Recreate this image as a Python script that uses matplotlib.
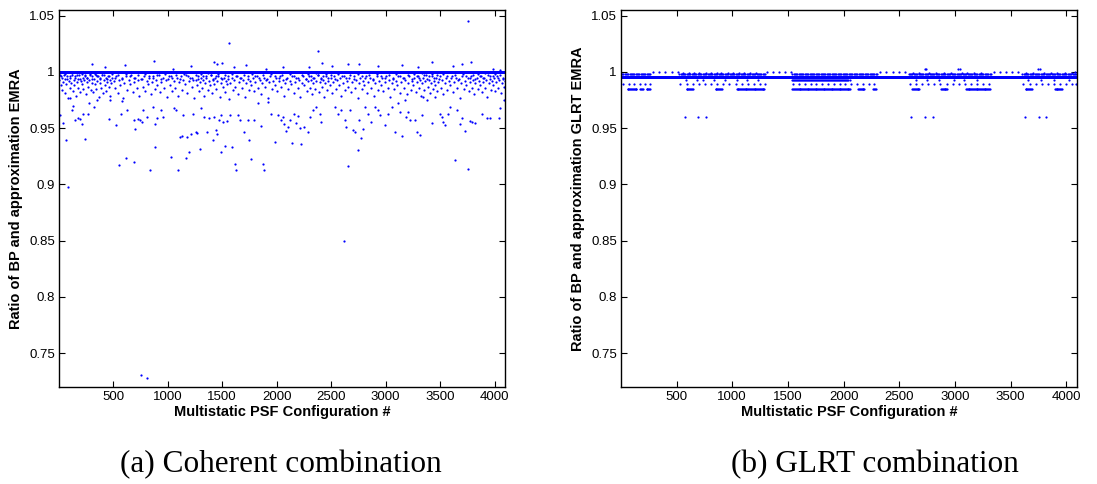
import matplotlib.pyplot as plt
import numpy as np
from matplotlib.ticker import FuncFormatter

n_config = 4096
configs = np.arange(1, n_config + 1)

# ---- (a) coherent combination ----
# most configurations sit on the ratio = 1 line; these are the ones that don't
coh_line = 1.0
coh_above = [(300, 1.007), (420, 1.004), (610, 1.006), (870, 1.010), (1050, 1.003), (1210, 1.005),
             (1420, 1.009), (1450, 1.007), (1500, 1.008), (1560, 1.026), (1610, 1.004), (1720, 1.006),
             (1900, 1.003), (2060, 1.004), (2300, 1.004), (2380, 1.019), (2420, 1.008), (2510, 1.005),
             (2650, 1.007), (2760, 1.007), (2930, 1.005), (3150, 1.006), (3300, 1.004), (3430, 1.009),
             (3620, 1.005), (3700, 1.007), (3760, 1.045), (3780, 1.009), (3990, 1.003), (4050, 1.002)]
coh_outliers = [(11, .9616), (42, .9547), (64, .9398), (82, .8981), (104, .9765), (119, .966), (134, .9696),
                (150, .9571), (171, .9586), (196, .958), (211, .9535), (242, .9407), (217, .963), (263, .963),
                (273, .972), (319, .969), (349, .975), (457, .958), (472, .975),
                (522, .9526), (549, .9175), (571, .963), (580, .9744), (620, .9234), (626, .966), (687, .920),
                (703, .9496), (690, .957), (724, .958), (749, .957), (764, .9556), (773, .966), (810, .9595),
                (841, .913), (866, .969), (878, .954), (887, .9333), (903, .9586), (933, .966), (958, .960),
                (758, .7306), (810, .728),
                (1032, .9243), (1056, .9675), (1072, .966), (1096, .9124), (1112, .9422), (1127, .9428),
                (1142, .9616), (1164, .9237), (1179, .9422), (1195, .9288), (1216, .9452), (1234, .963),
                (1256, .9467), (1271, .9458), (1293, .9318), (1302, .9675), (1333, .960), (1357, .9467),
                (1379, .9592), (1413, .9398), (1425, .960), (1440, .9481), (1456, .9452), (1471, .9571),
                (1486, .9288), (1493, .9616), (1511, .9556), (1523, .9341), (1548, .9562), (1572, .9616),
                (1594, .9333), (1620, .9183), (1626, .913),
                (1640, .9616), (1665, .9571), (1702, .9467), (1732, .9571), (1748, .9392), (1763, .9222),
                (1794, .9571), (1824, .972), (1855, .9517), (1871, .9183), (1886, .9124), (1917, .9735),
                (1947, .963), (1984, .9377), (2009, .9616), (2040, .9571), (2055, .960),
                (2070, .9541), (2086, .9476), (2101, .9511), (2126, .9571), (2138, .9368), (2162, .963),
                (2178, .9547), (2193, .9607), (2218, .9502), (2224, .9362), (2255, .9511), (2285, .9467),
                (2301, .960), (2332, .966), (2362, .969), (2393, .963), (2408, .9556),
                (2531, .969), (2562, .963), (2593, .966), (2614, .8495), (2623, .9571), (2639, .9511),
                (2654, .916), (2670, .966), (2700, .9481), (2716, .9467), (2746, .9303), (2753, .9571),
                (2771, .9416), (2792, .9496), (2808, .969), (2839, .963), (2869, .9556), (2900, .969),
                (2931, .966), (2946, .9616),
                (2992, .9526), (3023, .963), (3054, .969), (3084, .9467), (3115, .972), (3130, .9645),
                (3146, .9428), (3177, .975), (3183, .960), (3207, .9645), (3223, .9571), (3269, .9571),
                (3284, .9467), (3315, .9437), (3330, .9616), (3346, .978), (3376, .975), (3422, .9547),
                (3453, .978),
                (3499, .963), (3515, .960), (3530, .9556), (3545, .9526), (3576, .963), (3591, .969),
                (3638, .922), (3653, .966), (3684, .9541), (3699, .9586), (3730, .9473), (3760, .9139),
                (3776, .9565), (3791, .9556), (3822, .9547), (3883, .963), (3929, .9586), (3960, .9586),
                (4037, .9586), (4052, .9675), (4090, .975)]
coh_band = [(5, .993), (15, .988), (22, .996), (30, .984), (38, .991), (45, .997), (52, .981), (60, .994),
            (68, .989), (75, .996), (83, .977), (90, .992), (98, .986), (105, .995), (112, .990), (120, .997),
            (128, .983), (135, .993), (142, .988), (150, .996), (158, .979), (165, .991), (172, .994),
            (180, .986), (188, .997), (195, .982), (203, .992), (210, .989), (218, .995), (225, .985),
            (233, .993), (240, .997), (248, .980),
            (255, .991), (262, .995), (270, .987), (278, .993), (285, .998), (292, .984), (300, .990),
            (308, .996), (315, .982), (322, .994), (330, .989), (338, .997), (345, .985), (352, .992),
            (360, .996), (368, .978), (375, .990), (382, .994), (390, .986), (398, .997), (405, .981),
            (412, .993), (420, .988), (428, .995), (435, .983), (442, .991), (450, .996), (458, .987),
            (465, .993), (472, .979), (480, .990), (488, .995),
            (505, .992), (515, .986), (528, .996), (540, .981), (552, .993), (565, .988), (578, .995),
            (590, .977), (602, .990), (615, .996), (628, .984), (640, .993), (652, .989), (665, .997),
            (678, .982), (690, .991), (702, .995), (715, .986), (728, .993), (740, .979),
            (755, .994), (768, .987), (780, .996), (792, .983), (805, .992), (818, .989), (830, .995),
            (842, .980), (855, .991), (868, .996), (880, .985), (892, .993), (905, .988), (918, .997),
            (930, .982), (942, .991), (955, .995), (968, .986), (980, .993), (992, .978),
            (1005, .994), (1018, .988), (1030, .996), (1042, .983), (1055, .992), (1068, .986), (1080, .995),
            (1092, .979), (1105, .991), (1118, .996), (1130, .984), (1142, .993), (1155, .989), (1168, .997),
            (1180, .981), (1192, .992), (1205, .995), (1218, .987), (1230, .993), (1242, .977),
            (1255, .993), (1265, .988), (1275, .996), (1285, .983), (1295, .991), (1305, .995), (1315, .986),
            (1325, .993), (1335, .979), (1345, .990), (1355, .996), (1365, .984), (1375, .992), (1385, .988),
            (1395, .997), (1405, .981), (1415, .993), (1425, .989), (1435, .995), (1445, .985), (1455, .992),
            (1465, .996), (1475, .978), (1485, .990), (1495, .994),
            (1505, .987), (1515, .995), (1525, .982), (1535, .992), (1545, .989), (1555, .996), (1565, .976),
            (1575, .990), (1585, .995), (1595, .984), (1608, .993), (1620, .987), (1632, .996), (1645, .980),
            (1658, .991), (1670, .995), (1682, .986), (1695, .993), (1708, .978), (1720, .990), (1732, .996),
            (1745, .984),
            (1755, .992), (1768, .988), (1780, .995), (1792, .983), (1805, .991), (1818, .996), (1830, .986),
            (1842, .993), (1855, .980), (1868, .990), (1880, .995), (1892, .987), (1905, .993), (1918, .977),
            (1930, .991), (1942, .996), (1955, .985), (1968, .992), (1980, .988), (1992, .995),
            (2005, .983), (2018, .992), (2030, .996), (2042, .987), (2055, .993), (2068, .979), (2080, .990),
            (2092, .995), (2105, .985), (2118, .992), (2130, .989), (2142, .996), (2155, .981), (2168, .991),
            (2180, .995), (2192, .986), (2205, .993), (2218, .978), (2230, .990), (2242, .996),
            (2255, .988), (2265, .994), (2275, .983), (2285, .992), (2295, .996), (2305, .986), (2315, .993),
            (2325, .980), (2335, .990), (2345, .995), (2355, .985), (2365, .992), (2375, .997), (2385, .982),
            (2395, .991), (2405, .995), (2415, .987), (2425, .993), (2435, .978), (2445, .990), (2455, .996),
            (2465, .984), (2475, .992), (2485, .988), (2495, .995),
            (2505, .981), (2518, .991), (2530, .996), (2542, .985), (2555, .993), (2568, .988), (2580, .995),
            (2592, .979), (2605, .990), (2618, .996), (2630, .984), (2642, .992), (2655, .987), (2668, .995),
            (2680, .982), (2692, .991), (2705, .996), (2718, .986), (2730, .993), (2742, .977),
            (2755, .990), (2768, .995), (2780, .985), (2792, .992), (2805, .988), (2818, .996), (2830, .981),
            (2842, .991), (2855, .995), (2868, .986), (2880, .993), (2892, .979), (2905, .990), (2918, .996),
            (2930, .984), (2942, .992), (2955, .988), (2968, .995), (2980, .983), (2992, .991),
            (3005, .996), (3018, .986), (3030, .993), (3042, .978), (3055, .990), (3068, .995), (3080, .985),
            (3092, .992), (3105, .988), (3118, .996), (3130, .981), (3142, .991), (3155, .995), (3168, .986),
            (3180, .993), (3192, .980), (3205, .990), (3218, .996), (3230, .984), (3242, .992),
            (3255, .988), (3265, .995), (3275, .982), (3285, .991), (3295, .996), (3305, .986), (3315, .993),
            (3325, .979), (3335, .990), (3345, .995), (3355, .984), (3365, .992), (3375, .997), (3385, .987),
            (3395, .993), (3405, .981), (3415, .990), (3425, .996), (3435, .985), (3445, .992), (3455, .988),
            (3465, .995), (3475, .983), (3485, .991), (3495, .996),
            (3505, .986), (3518, .993), (3530, .980), (3542, .990), (3555, .995), (3568, .984), (3580, .992),
            (3592, .988), (3605, .996), (3618, .982), (3630, .991), (3642, .995), (3655, .986), (3668, .993),
            (3680, .977), (3692, .990), (3705, .996), (3718, .985), (3730, .992), (3742, .988),
            (3755, .995), (3765, .983), (3775, .991), (3785, .996), (3795, .986), (3805, .993), (3815, .980),
            (3825, .990), (3835, .995), (3845, .985), (3855, .992), (3865, .988), (3875, .996), (3885, .982),
            (3895, .991), (3905, .995), (3915, .986), (3925, .993), (3935, .978), (3945, .990), (3955, .996),
            (3965, .984), (3975, .992), (3985, .988), (3995, .995), (4005, .983), (4015, .991), (4025, .996),
            (4035, .986), (4045, .993), (4055, .981), (4065, .990), (4075, .995), (4085, .987), (4093, .992)]
# the crowded strip just under the line
coh_near = [(8, .997), (31, .995), (54, .998), (77, .994), (99, .996), (123, .999), (146, .995), (168, .997),
            (191, .994), (214, .998), (236, .996), (259, .995), (282, .997), (304, .994), (327, .998),
            (350, .996), (373, .995), (395, .999), (418, .997), (441, .994), (463, .996), (486, .998),
            (512, .995), (546, .997), (581, .994), (617, .998), (652, .996), (688, .995), (723, .997),
            (759, .994), (794, .998), (830, .996), (865, .995), (901, .997), (936, .994), (972, .998),
            (1007, .996), (1043, .995), (1078, .997), (1114, .994), (1149, .998), (1185, .996), (1220, .995),
            (1256, .997), (1279, .994), (1302, .998), (1325, .996), (1348, .995), (1371, .999), (1394, .997),
            (1417, .994), (1440, .996), (1463, .998), (1486, .995),
            (1521, .997), (1556, .994), (1592, .998), (1627, .996), (1663, .995), (1698, .997), (1734, .994),
            (1769, .998), (1805, .996), (1840, .995), (1876, .997), (1911, .994), (1947, .998), (1982, .996),
            (2018, .995), (2053, .997), (2089, .994), (2124, .998), (2160, .996), (2195, .995), (2231, .997),
            (2266, .994), (2289, .998), (2312, .996), (2335, .995), (2358, .999), (2381, .997), (2404, .994),
            (2427, .996), (2450, .998), (2473, .995), (2496, .997),
            (2531, .994), (2567, .998), (2602, .996), (2638, .995), (2673, .997), (2709, .994), (2744, .998),
            (2780, .996), (2815, .995), (2851, .997), (2886, .994), (2922, .998), (2957, .996), (2993, .995),
            (3028, .997), (3064, .994), (3099, .998), (3135, .996), (3170, .995), (3206, .997), (3241, .994),
            (3264, .998), (3287, .996), (3310, .995), (3333, .999), (3356, .997), (3379, .994), (3402, .996),
            (3425, .998), (3448, .995), (3471, .997), (3494, .994),
            (3529, .998), (3565, .996), (3600, .995), (3636, .997), (3671, .994), (3707, .998), (3742, .996),
            (3778, .995), (3801, .997), (3824, .994), (3847, .998), (3870, .996), (3893, .995), (3916, .999),
            (3939, .997), (3962, .994), (3985, .996), (4008, .998), (4031, .995), (4054, .997), (4077, .994)]

# ---- (b) GLRT combination ----
glrt_line = 0.9953
glrt_hi = [2728, 2742, 3028, 3046, 3742, 3760]                      # 1.003
glrt_one = [290, 345, 400, 455, 510, 1310, 1365, 1420, 1475, 1525,
            2330, 2385, 2440, 2495, 2550, 3350, 3405, 3460, 3515, 3570, 4080]   # 1.0
glrt_tick_hi = [560, 610, 660, 700, 760, 810, 860, 900, 960, 1010, 1060, 1110, 1160, 1210,
                2620, 2680, 2770, 2830, 2900, 2960, 3060, 3110, 3170, 3230,
                3640, 3700, 3800, 3860, 3920, 3990, 4050]                # 0.999
glrt_upper_runs = [(1, 265), (525, 1295), (1540, 2300), (2585, 3325), (3605, 4096)]  # 0.9975
glrt_mid_runs = [(1540, 2060)]                                        # 0.9935
glrt_tick_lo = [585, 680, 735, 840, 935, 1040, 1135, 1230,
                2650, 2745, 2860, 2990, 3085, 3200, 3660, 3770, 3890, 4020]   # 0.9935
glrt_dots = [20, 70, 120, 170, 220, 262,
             535, 590, 645, 700, 755, 810, 865, 920, 975, 1030, 1085, 1140, 1195, 1250, 1295,
             1548, 1600, 1652, 1704, 1756, 1808, 1860, 1912, 1964, 2016, 2068, 2120, 2172, 2224, 2276,
             2595, 2650, 2705, 2760, 2815, 2870, 2925, 2980, 3035, 3090, 3145, 3200, 3255, 3310,
             3615, 3670, 3725, 3780, 3835, 3890, 3945, 4000, 4055, 4090]     # 0.989
glrt_low_runs = [(60, 140), (175, 205), (230, 265), (590, 650), (850, 910), (1040, 1290),
                 (1540, 2060), (2130, 2190), (2265, 2290), (2616, 2680), (2875, 2935),
                 (3098, 3320), (3634, 3693), (3896, 3961)]                # 0.9852
glrt_far = [574, 696, 762, 2607, 2735, 2800, 3628, 3753, 3821]        # 0.96

blue = (0, 0, 1)
ms = 3.2


def runs_to_x(runs, step=4):
    return np.concatenate([np.arange(a, b + 1, step) for a, b in runs])


fig = plt.figure(figsize=(10.97, 4.84), dpi=100)
axA = fig.add_axes([59 / 1097, 1 - 387 / 484, 446 / 1097, 377 / 484])
axB = fig.add_axes([621 / 1097, 1 - 387 / 484, 456 / 1097, 377 / 484])

# panel (a)
pts = np.array(coh_above + coh_outliers + coh_band + coh_near)
off = set(pts[:, 0].astype(int))
base_x = np.array([c for c in configs if c not in off])
axA.plot(base_x, np.full(len(base_x), coh_line), '.', color=blue, ms=ms + 0.6, mew=0)
axA.plot(pts[:, 0], pts[:, 1], '.', color=blue, ms=ms, mew=0)

# panel (b)
levels = [
    (np.array(glrt_hi), 1.003),
    (np.array(glrt_one), 1.0),
    (np.array(glrt_tick_hi), 0.999),
    (runs_to_x(glrt_upper_runs, 11), 0.9977),
    (runs_to_x(glrt_mid_runs, 9), 0.9932),
    (np.array(glrt_tick_lo), 0.9932),
    (np.array(glrt_dots), 0.989),
    (runs_to_x(glrt_low_runs, 8), 0.9852),
    (np.array(glrt_far), 0.96),
]
axB.plot(configs, np.full(n_config, glrt_line), '.', color=blue, ms=ms, mew=0)
for xs, yv in levels:
    axB.plot(xs, np.full(len(xs), yv), '.', color=blue, ms=ms, mew=0)

ylabels = ['Ratio of BP and approximation EMRA', 'Ratio of BP and approximation GLRT EMRA']
for ax, yl in zip([axA, axB], ylabels):
    ax.set_xlim(1, n_config)
    ax.set_ylim(0.72, 1.055)
    ax.set_xticks(np.arange(500, 4001, 500))
    ax.set_yticks([0.75, 0.8, 0.85, 0.9, 0.95, 1.0, 1.05])
    ax.yaxis.set_major_formatter(FuncFormatter(lambda v, p: '%g' % round(v, 3)))
    ax.tick_params(direction='in', top=True, right=True, length=4, width=0.8,
                   labelsize=9.5, pad=3)
    for lab in ax.get_xticklabels() + ax.get_yticklabels():
        lab.set_fontfamily('Liberation Sans')
    for s in ax.spines.values():
        s.set_linewidth(1.0)
    ax.set_xlabel('Multistatic PSF Configuration #', fontsize=10.5, fontweight='bold',
                  family='Liberation Sans', labelpad=1)
    ax.set_ylabel(yl, fontsize=10.5, fontweight='bold', family='Liberation Sans', labelpad=4)

fig.text(281 / 1097, 1 - 465 / 484, '(a) Coherent combination', ha='center', va='center',
         fontsize=22.5, family='Liberation Serif')
fig.text(875 / 1097, 1 - 465 / 484, '(b) GLRT combination', ha='center', va='center',
         fontsize=22.5, family='Liberation Serif')

fig.savefig('out.png', dpi=100)
